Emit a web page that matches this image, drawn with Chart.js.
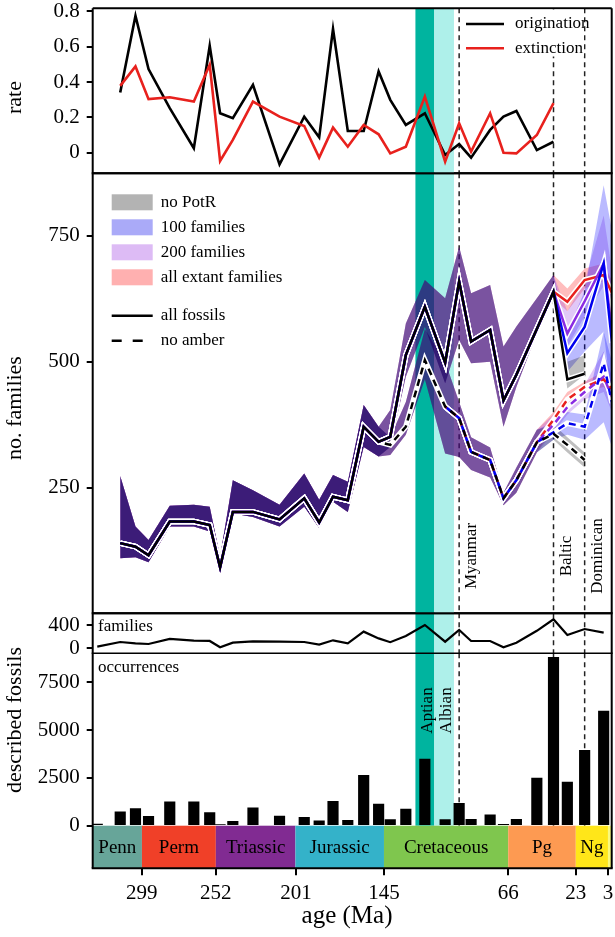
<!DOCTYPE html>
<html>
<head>
<meta charset="utf-8">
<script src="https://cdn.jsdelivr.net/npm/chart.js@4.4.1/dist/chart.umd.min.js"></script>
<style>
  body { margin: 0; background: #fff; }
  #wrap { position: relative; width: 615px; height: 937px; }
  canvas { position: absolute; left: 0; top: 0; }
</style>
</head>
<body>
<div id="wrap">
  <canvas id="occChart" width="615" height="937"></canvas>
  <canvas id="smallChart" width="615" height="937"></canvas>
  <canvas id="famChart" width="615" height="937"></canvas>
  <canvas id="rateChart" width="615" height="937"></canvas>
</div>
<script>
// bin mid ages (Ma), shared by every panel
const binAges = [327.3, 312.7, 303.0, 294.7, 281.2, 265.9, 255.8, 249.2, 241.1, 228.3, 211.4,
  195.7, 186.2, 177.4, 168.0, 157.9, 148.4, 141.0, 131.1, 119.0, 106.1, 97.2, 89.6, 77.5,
  69.0, 60.8, 47.8, 37.2, 28.4, 17.4, 5.3, 0];

// rate panel
const origination = [null, 0.34, 0.775, 0.473, 0.252, 0.025, 0.605, 0.223, 0.195, 0.384, -0.066,
  0.204, 0.087, 0.70, 0.123, 0.123, 0.46, 0.299, 0.157, 0.223, -0.013, 0.049, -0.028, 0.129,
  0.204, 0.236, 0.015, 0.062];
const extinction = [null, 0.378, 0.488, 0.303, 0.314, 0.289, 0.497, -0.047, 0.072, 0.289, 0.204,
  0.151, -0.028, 0.142, 0.034, 0.157, 0.104, -0.004, 0.034, 0.318, -0.051, 0.166, 0.006, 0.223,
  0.0, -0.004, 0.10, 0.28];

// no. families, all fossils (shared by all PotR settings up to Baltic)
const allFossils = [null, 140, 133, 116, 183, 183, 176, 92, 202, 202, 187, 229, 181, 232, 225,
  371, 341, 351, 513, 609, 498, 659, 540, 563, 423, 474, 565, 639];
const allLo = [null, 110, 112, 102, 173, 173, 163, 77, 199, 192, 173, 212, 170, 222, 202,
  331, 312, 331, 470, 569, 457, 543, 497, 500, 371, 450, 556, 626];
const allHi = [null, 273, 173, 146, 214, 216, 212, 113, 265, 245, 216, 278, 226, 275, 262,
  414, 371, 404, 576, 662, 626, 728, 636, 652, 530, 570, 626, 672];
// tails after Baltic (28.4, 17.4, 5.3, 0 Ma)
const solidTail = {
  gray:   [465, 476, null, null],
  blue:   [517, 569, 695, 537],
  purple: [556, 620, 695, 560],
  red:    [619, 662, 672, 636]
};
const solidTailLo = {
  gray: [447, 474, null, null], blue: [480, 520, 560, 420],
  purple: [530, 590, 650, 500], red: [600, 645, 660, 615]
};
const solidTailHi = {
  gray: [500, 513, null, null], blue: [560, 640, 850, 760],
  purple: [600, 660, 790, 680], red: [645, 685, 695, 660]
};

// no amber (shared up to 47.8 Ma)
const noAmber = [null, 140, 133, 116, 183, 183, 176, 92, 202, 202, 187, 229, 181, 232, 225,
  371, 341, 335, 371, 503, 411, 388, 321, 305, 229, 265, 340];
const noAmberLo = [null, 110, 112, 102, 173, 173, 163, 77, 199, 192, 173, 212, 170, 222, 202,
  331, 312, 315, 355, 465, 318, 311, 285, 270, 215, 240, 320];
const noAmberHi = [null, 273, 173, 146, 214, 216, 212, 113, 265, 245, 216, 278, 226, 275, 262,
  414, 371, 350, 420, 565, 500, 420, 350, 330, 240, 290, 365];
// tails (37.2, 28.4, 17.4, 5.3, 0 Ma)
const dashTail = {
  gray: [357, 335, 305, null, null], blue: [360, 378, 371, 497, 418],
  purple: [375, 410, 440, 470, 430], red: [385, 425, 450, 465, 445]
};
const dashTailLo = {
  gray: [345, 320, 290, null, null], blue: [345, 355, 345, 380, 330],
  purple: [360, 395, 425, 440, 400], red: [370, 410, 440, 450, 430]
};
const dashTailHi = {
  gray: [375, 350, 320, null, null], blue: [380, 400, 395, 560, 500],
  purple: [395, 425, 455, 520, 470], red: [400, 440, 460, 480, 460]
};

// described fossils
const familyCounts = [28, 108, 86, 74, 160, 131, 126, 17, 97, 120, 114, 108, 63, 137, 86, 286,
  170, 105, 211, 400, 113, 314, 125, 125, 17, 96, 300, 498, 228, 331, 268];
const occurrences = [90, 730, 890, 490, 1250, 1250, 680, 50, 225, 940, 505, 435, 260, 1270, 280,
  2630, 1130, 315, 870, 3480, 315, 1165, 330, 575, 70, 330, 2490, 8800, 2280, 3940, 5990];

// time scale
const periodNames = ['Penn', 'Perm', 'Triassic', 'Jurassic', 'Cretaceous', 'Pg', 'Ng', ''];
const periodStart = [330.2, 298.9, 251.9, 201.3, 145, 66, 23.03, 2.58];
const periodEnd = [298.9, 251.9, 201.3, 145, 66, 23.03, 2.58, 0];
const periodColors = ['#67a599', '#f04028', '#812b92', '#34b2c9', '#7fc64e', '#fd9a52', '#ffe619', '#f9f97f'];
const xTickAges = [299, 252, 201, 145, 66, 23, 2.58];
const xTickLabels = ['299', '252', '201', '145', '66', '23', '3'];

const stageNames = ['Aptian', 'Albian'];
const stageStart = [125, 113];
const stageEnd = [113, 100.5];
const stageColors = ['#00b49f', '#aef0ea'];
const amberNames = ['Myanmar', 'Baltic', 'Dominican'];
const amberAges = [97.2, 37.2, 17.4];

const SERIF = '"Liberation Serif", "DejaVu Serif", serif';
Chart.defaults.font.family = SERIF;
Chart.defaults.color = '#000';
Chart.defaults.animation = false;

const colors = {
  gray: { line: '#000000', fill: 'rgba(0,0,0,0.25)', key: '#b3b3b3' },
  blue: { line: '#0000ee', fill: 'rgba(0,0,255,0.27)', key: '#aaaaf8' },
  purple: { line: '#8a2be2', fill: 'rgba(138,43,226,0.26)', key: '#ddbbf5' },
  red: { line: '#e8211d', fill: 'rgba(255,0,0,0.26)', key: '#ffb0b0' }
};

function pts(arr) {
  return binAges.map((x, i) => ({ x: x, y: arr[i] === undefined ? null : arr[i] }));
}

// keep the plot box exactly where the layout padding puts it
function noOverflow(s) {
  s.paddingLeft = 0; s.paddingRight = 0; s.paddingTop = 0; s.paddingBottom = 0;
}

function xAxis(show) {
  const ax = { type: 'linear', reverse: true, min: 0.2, max: 330.2, display: show, offset: false,
    grid: { display: false, offset: false } };
  if (show) {
    ax.afterFit = s => { s.height = 68.7; noOverflow(s); };
    ax.afterBuildTicks = s => { s.ticks = xTickAges.map(v => ({ value: v })); };
    ax.ticks = { font: { size: 21 }, padding: 6, autoSkip: false, maxRotation: 0,
      callback: (v, i) => xTickLabels[i] };
    ax.grid = { display: true, offset: false, drawOnChartArea: false, drawTicks: true, tickLength: 7,
      color: '#000', lineWidth: 2 };
    ax.border = { display: false };
  }
  return ax;
}

function yAxis(min, max, tickVals, fmt) {
  return {
    type: 'linear', min: min, max: max,
    afterFit: s => { s.width = 92.7; noOverflow(s); },
    afterBuildTicks: s => { s.ticks = tickVals.map(v => ({ value: v })); },
    ticks: { font: { size: 21 }, padding: 7, autoSkip: false, callback: fmt || (v => String(v)) },
    grid: { drawOnChartArea: false, drawTicks: true, tickLength: 6, color: '#000', lineWidth: 2 },
    border: { display: false }
  };
}

function drawMarkers(chart, bottomPx) {
  const { ctx, chartArea: a, scales } = chart;
  const xs = scales.x;
  const bottom = bottomPx === undefined ? a.bottom : bottomPx;
  ctx.save();
  ctx.beginPath();
  ctx.rect(a.left, a.top, a.right - a.left, a.bottom - a.top);
  ctx.clip();
  stageNames.forEach((n, i) => {
    const x1 = xs.getPixelForValue(stageStart[i]);
    const x2 = xs.getPixelForValue(stageEnd[i]);
    ctx.fillStyle = stageColors[i];
    ctx.fillRect(x1, a.top, x2 - x1, bottom - a.top);
  });
  ctx.strokeStyle = '#222';
  ctx.lineWidth = 1.5;
  ctx.setLineDash([5, 4]);
  amberAges.forEach(age => {
    const x = xs.getPixelForValue(age);
    ctx.beginPath();
    ctx.moveTo(x, a.top);
    ctx.lineTo(x, bottom);
    ctx.stroke();
  });
  ctx.restore();
}

function frame(chart, bottomWidth, skipTop) {
  const { ctx, chartArea: a } = chart;
  ctx.save();
  ctx.strokeStyle = '#000';
  ctx.lineWidth = 2;
  ctx.beginPath();
  if (!skipTop) { ctx.moveTo(a.left, a.top); ctx.lineTo(a.right, a.top); }
  ctx.moveTo(a.left, a.top); ctx.lineTo(a.left, a.bottom);
  ctx.moveTo(a.right, a.top); ctx.lineTo(a.right, a.bottom);
  ctx.stroke();
  ctx.lineWidth = bottomWidth;
  ctx.beginPath();
  ctx.moveTo(a.left - 1, a.bottom); ctx.lineTo(a.right + 1, a.bottom);
  ctx.stroke();
  ctx.restore();
}

function rotText(ctx, text, x, y, size) {
  ctx.save();
  ctx.translate(x, y);
  ctx.rotate(-Math.PI / 2);
  ctx.font = size + 'px ' + SERIF;
  ctx.textAlign = 'center';
  ctx.textBaseline = 'alphabetic';
  ctx.fillStyle = '#000';
  ctx.fillText(text, 0, 0);
  ctx.restore();
}

function text(ctx, str, x, y, size, align) {
  ctx.save();
  ctx.font = size + 'px ' + SERIF;
  ctx.textAlign = align || 'left';
  ctx.textBaseline = 'middle';
  ctx.fillStyle = '#000';
  ctx.fillText(str, x, y);
  ctx.restore();
}

function lineDs(arr, color, width, dash, offset) {
  return { data: pts(arr), borderColor: color, borderWidth: width, pointRadius: 0, fill: false,
    borderDash: dash || [], borderDashOffset: offset || 0, tension: 0 };
}

// ---------------- rate ----------------
new Chart(document.getElementById('rateChart'), {
  type: 'line',
  data: {
    datasets: [
      Object.assign(lineDs(origination, '#000', 2.6), { order: 2 }),
      Object.assign(lineDs(extinction, '#e8211d', 2.6), { order: 1 })
    ]
  },
  options: {
    responsive: false,
    layout: { padding: { top: 8.3, bottom: 937 - 173.3, left: 0, right: 3.3 } },
    plugins: { legend: { display: false }, tooltip: { enabled: false } },
    scales: {
      x: xAxis(false),
      y: yAxis(-0.1166, 0.817, [0, 0.2, 0.4, 0.6, 0.8], v => v === 0 ? '0' : v.toFixed(1))
    }
  },
  plugins: [{
    id: 'rateDeco',
    beforeDatasetsDraw: c => drawMarkers(c),
    afterDatasetsDraw: c => {
      const ctx = c.ctx;
      frame(c, 2);
      ctx.save();
      ctx.fillStyle = '#fff';
      ctx.fillRect(460, 9.5, 124, 47);
      ctx.lineWidth = 2.5;
      ctx.strokeStyle = '#000';
      ctx.beginPath(); ctx.moveTo(466, 24); ctx.lineTo(504, 24); ctx.stroke();
      ctx.strokeStyle = '#e8211d';
      ctx.beginPath(); ctx.moveTo(466, 48.3); ctx.lineTo(504, 48.3); ctx.stroke();
      ctx.restore();
      text(ctx, 'origination', 515, 24, 17);
      text(ctx, 'extinction', 515, 48.3, 17);
      rotText(ctx, 'rate', 20.5, 97.5, 22);
    }
  }]
});

// ---------------- no. families ----------------
const order = ['red', 'purple', 'blue', 'gray'];
const famSets = [];
function band(lo, hi, color) {
  famSets.push({ data: pts(lo), borderColor: 'rgba(0,0,0,0)', borderWidth: 0, pointRadius: 0,
    fill: false, backgroundColor: color });
  famSets.push({ data: pts(hi), borderColor: 'rgba(0,0,0,0)', borderWidth: 0, pointRadius: 0,
    fill: '-1', backgroundColor: color });
}
order.forEach(k => {
  band(allLo.concat(solidTailLo[k]), allHi.concat(solidTailHi[k]), colors[k].fill);
  band(noAmberLo.concat(dashTailLo[k]), noAmberHi.concat(dashTailHi[k]), colors[k].fill);
});
const dashLines = {};
order.forEach(k => {
  const base = noAmber.map((v, i) => (k === 'gray' || i >= 20) ? v : null);
  dashLines[k] = base.concat(dashTail[k]);
});
order.forEach(k => famSets.push(lineDs(dashLines[k], '#fff', 5.5)));
famSets.push(lineDs(dashLines.red, colors.red.line, 2.5, [7, 5], 4));
famSets.push(lineDs(dashLines.purple, colors.purple.line, 2.5, [7, 5], 8));
famSets.push(lineDs(dashLines.blue, colors.blue.line, 2.5, [7, 5], 10));
famSets.push(lineDs(dashLines.gray, '#000', 2.5, [7, 5], 0));
order.forEach(k => famSets.push(lineDs(allFossils.concat(solidTail[k]), '#fff', 5.5)));
order.forEach(k => famSets.push(lineDs(allFossils.concat(solidTail[k]), colors[k].line, 2.5)));
famSets.forEach((d, i) => { d.order = famSets.length - i; });

const legendRows = [
  ['no PotR', colors.gray.key], ['100 families', colors.blue.key],
  ['200 families', colors.purple.key], ['all extant families', colors.red.key]
];

new Chart(document.getElementById('famChart'), {
  type: 'line',
  data: { datasets: famSets },
  options: {
    responsive: false,
    layout: { padding: { top: 173.3, bottom: 937 - 613.3, left: 0, right: 3.3 } },
    plugins: { legend: { display: false }, tooltip: { enabled: false }, filler: { propagate: false } },
    scales: { x: xAxis(false), y: yAxis(0.8, 873.8, [250, 500, 750]) }
  },
  plugins: [{
    id: 'famDeco',
    beforeDatasetsDraw: c => drawMarkers(c),
    afterDatasetsDraw: c => {
      const ctx = c.ctx;
      frame(c, 2);
      legendRows.forEach((r, i) => {
        const y = 202.3 + i * 25;
        ctx.fillStyle = r[1];
        ctx.fillRect(111.7, y - 8, 41, 16);
        text(ctx, r[0], 160.7, y, 17);
      });
      ctx.save();
      ctx.strokeStyle = '#000';
      ctx.lineWidth = 2.5;
      ctx.beginPath(); ctx.moveTo(111.7, 315.7); ctx.lineTo(152.7, 315.7); ctx.stroke();
      ctx.setLineDash([10, 11]);
      ctx.beginPath(); ctx.moveTo(111.7, 340.7); ctx.lineTo(152.7, 340.7); ctx.stroke();
      ctx.restore();
      text(ctx, 'all fossils', 160.7, 315.7, 17);
      text(ctx, 'no amber', 160.7, 340.7, 17);
      amberNames.forEach((n, i) => {
        rotText(ctx, n, c.scales.x.getPixelForValue(amberAges[i]) + 17, 556, 17);
      });
      rotText(ctx, 'no. families', 20.5, 408, 22);
    }
  }]
});

// ---------------- families (small) ----------------
new Chart(document.getElementById('smallChart'), {
  type: 'line',
  data: { datasets: [lineDs(familyCounts, '#000', 2.2)] },
  options: {
    responsive: false,
    layout: { padding: { top: 613.3, bottom: 937 - 653.3, left: 0, right: 3.3 } },
    plugins: { legend: { display: false }, tooltip: { enabled: false } },
    scales: { x: xAxis(false), y: yAxis(-86, 601, [0, 400]) }
  },
  plugins: [{
    id: 'smallDeco',
    beforeDatasetsDraw: c => drawMarkers(c),
    afterDatasetsDraw: c => {
      frame(c, 1.4);
      text(c.ctx, 'families', 98, 627, 17);
    }
  }]
});

// ---------------- occurrences ----------------
new Chart(document.getElementById('occChart'), {
  type: 'bar',
  data: {
    datasets: [{ data: pts(occurrences), backgroundColor: '#000', borderWidth: 0,
      barThickness: 10.5, grouped: false }]
  },
  options: {
    responsive: false,
    layout: { padding: { top: 653.3, bottom: 0, left: 0, right: 3.3 } },
    plugins: { legend: { display: false }, tooltip: { enabled: false } },
    scales: { x: xAxis(true), y: yAxis(-2228, 9017, [0, 2500, 5000, 7500]) }
  },
  plugins: [{
    id: 'occDeco',
    beforeDatasetsDraw: c => {
      const { ctx, chartArea: a, scales } = c;
      const y0 = scales.y.getPixelForValue(0);
      drawMarkers(c, y0);
      periodNames.forEach((n, i) => {
        const x1 = Math.max(a.left, scales.x.getPixelForValue(periodStart[i]));
        const x2 = Math.min(a.right, scales.x.getPixelForValue(periodEnd[i]));
        ctx.fillStyle = periodColors[i];
        ctx.fillRect(x1, y0, x2 - x1, a.bottom - y0);
      });
    },
    afterDatasetsDraw: c => {
      const { ctx, chartArea: a, scales } = c;
      const y0 = scales.y.getPixelForValue(0);
      periodNames.forEach((n, i) => {
        if (!n) return;
        const x1 = Math.max(a.left, scales.x.getPixelForValue(periodStart[i]));
        const x2 = Math.min(a.right, scales.x.getPixelForValue(periodEnd[i]));
        text(ctx, n, (x1 + x2) / 2, (y0 + a.bottom) / 2 + 1, 19, 'center');
      });
      stageNames.forEach((n, i) => {
        const xm = (scales.x.getPixelForValue(stageStart[i]) + scales.x.getPixelForValue(stageEnd[i])) / 2;
        rotText(ctx, n, xm + 7, 710.5, 17);
      });
      frame(c, 2, true);
      text(ctx, 'occurrences', 98, 668, 17);
      rotText(ctx, 'described fossils', 20.5, 720, 22);
      text(ctx, 'age (Ma)', 347, 916, 25, 'center');
    }
  }]
});
</script>
</body>
</html>
